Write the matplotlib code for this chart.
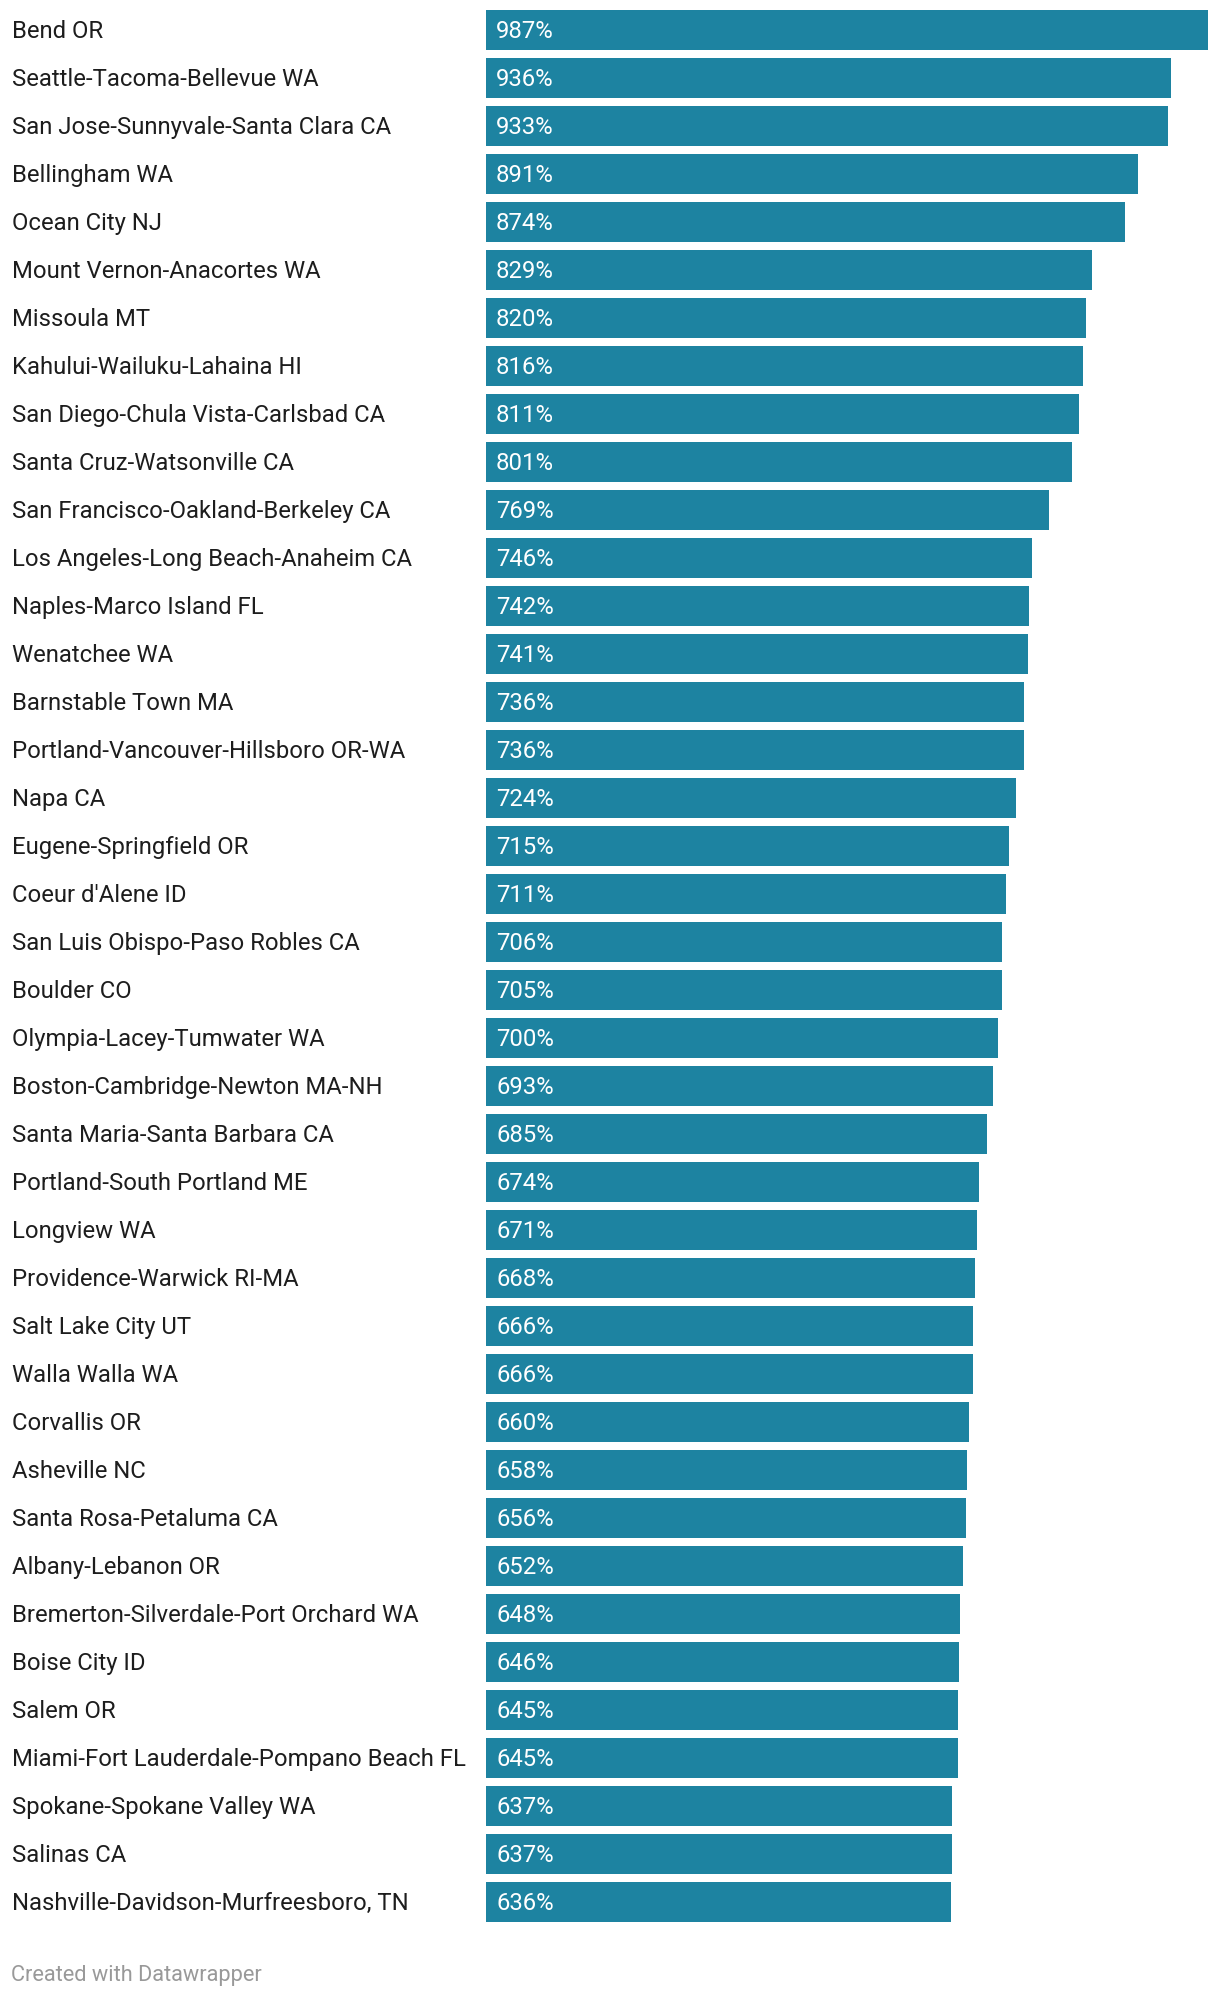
import matplotlib
matplotlib.use("Agg")
import matplotlib.pyplot as plt
from matplotlib.transforms import blended_transform_factory

plt.rcParams["font.family"] = ["Roboto", "DejaVu Sans"]

metros = [
    "Bend OR", "Seattle-Tacoma-Bellevue WA", "San Jose-Sunnyvale-Santa Clara CA",
    "Bellingham WA", "Ocean City NJ", "Mount Vernon-Anacortes WA", "Missoula MT",
    "Kahului-Wailuku-Lahaina HI", "San Diego-Chula Vista-Carlsbad CA",
    "Santa Cruz-Watsonville CA", "San Francisco-Oakland-Berkeley CA",
    "Los Angeles-Long Beach-Anaheim CA", "Naples-Marco Island FL", "Wenatchee WA",
    "Barnstable Town MA", "Portland-Vancouver-Hillsboro OR-WA", "Napa CA",
    "Eugene-Springfield OR", "Coeur d'Alene ID", "San Luis Obispo-Paso Robles CA",
    "Boulder CO", "Olympia-Lacey-Tumwater WA", "Boston-Cambridge-Newton MA-NH",
    "Santa Maria-Santa Barbara CA", "Portland-South Portland ME", "Longview WA",
    "Providence-Warwick RI-MA", "Salt Lake City UT", "Walla Walla WA",
    "Corvallis OR", "Asheville NC", "Santa Rosa-Petaluma CA", "Albany-Lebanon OR",
    "Bremerton-Silverdale-Port Orchard WA", "Boise City ID", "Salem OR",
    "Miami-Fort Lauderdale-Pompano Beach FL", "Spokane-Spokane Valley WA",
    "Salinas CA", "Nashville-Davidson-Murfreesboro, TN",
]
pct = [987, 936, 933, 891, 874, 829, 820, 816, 811, 801, 769, 746, 742, 741,
       736, 736, 724, 715, 711, 706, 705, 700, 693, 685, 674, 671, 668, 666,
       666, 660, 658, 656, 652, 648, 646, 645, 645, 637, 637, 636]

BAR = "#1d83a1"
W, H = 1220, 1998

fig = plt.figure(figsize=(W / 100, H / 100), dpi=100)
# plot area in pixels: x 486..1208, rows 48px tall starting at y=6
ax = fig.add_axes([486 / W, (H - 1926) / H, 722 / W, 1920 / H])
ypos = list(range(len(metros)))
ax.barh(ypos, pct, height=40 / 48, color=BAR)
ax.set_xlim(0, max(pct))
ax.set_ylim(len(metros) - 0.5, -0.5)
ax.axis("off")

trans = blended_transform_factory(fig.transFigure, ax.transData)
pad = 10 * max(pct) / 722  # 10px inside the bar
dy = 1.5 / 48              # nudge text down a touch
for y, name, v in zip(ypos, metros, pct):
    ax.text(12 / W, y + dy, name, transform=trans, ha="left", va="center",
            fontsize=17.2, color="#1d1d1d")
    ax.text(pad, y + dy, f"{v}%", ha="left", va="center", fontsize=17.2,
            color="white")

fig.text(11 / W, 1 - 1976 / H, "Created with Datawrapper", ha="left",
         va="center", fontsize=15.7, color="#999999")

fig.savefig("out.png", dpi=100)
